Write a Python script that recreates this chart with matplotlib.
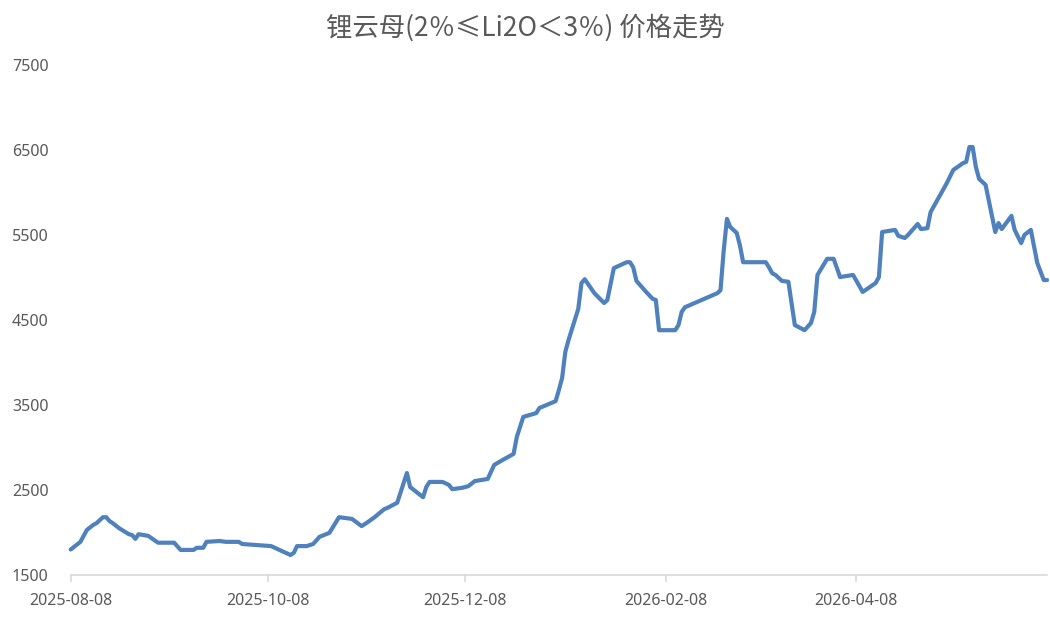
import matplotlib
matplotlib.use("Agg")
import matplotlib.pyplot as plt
import matplotlib.dates as mdates
import pandas as pd

dates = [
    "2025-08-08", "2025-08-11", "2025-08-13", "2025-08-15", "2025-08-16", "2025-08-18",
    "2025-08-19", "2025-08-20", "2025-08-21", "2025-08-23", "2025-08-26", "2025-08-27",
    "2025-08-28", "2025-08-29", "2025-09-01", "2025-09-04", "2025-09-09", "2025-09-11",
    "2025-09-15", "2025-09-16", "2025-09-18", "2025-09-19", "2025-09-23", "2025-09-25",
    "2025-09-29", "2025-09-30", "2025-10-09", "2025-10-11", "2025-10-13", "2025-10-15",
    "2025-10-16", "2025-10-17", "2025-10-20", "2025-10-22", "2025-10-24", "2025-10-27",
    "2025-10-30", "2025-11-03", "2025-11-06", "2025-11-08", "2025-11-10", "2025-11-13",
    "2025-11-14", "2025-11-17", "2025-11-20", "2025-11-21", "2025-11-25", "2025-11-26",
    "2025-11-27", "2025-12-01", "2025-12-03", "2025-12-04", "2025-12-07", "2025-12-09",
    "2025-12-11", "2025-12-15", "2025-12-17", "2025-12-19", "2025-12-23", "2025-12-24",
    "2025-12-26", "2025-12-30", "2025-12-31", "2026-01-05", "2026-01-06", "2026-01-07",
    "2026-01-08", "2026-01-09", "2026-01-12", "2026-01-13", "2026-01-14", "2026-01-17",
    "2026-01-20", "2026-01-21", "2026-01-23", "2026-01-27", "2026-01-28", "2026-01-29",
    "2026-01-30", "2026-02-02", "2026-02-04", "2026-02-05", "2026-02-06", "2026-02-11",
    "2026-02-12", "2026-02-13", "2026-02-14", "2026-02-24", "2026-02-25", "2026-02-26",
    "2026-02-27", "2026-02-28", "2026-03-02", "2026-03-03", "2026-03-04", "2026-03-11",
    "2026-03-12", "2026-03-13", "2026-03-14", "2026-03-16", "2026-03-18", "2026-03-20",
    "2026-03-23", "2026-03-25", "2026-03-26", "2026-03-27", "2026-03-30", "2026-04-01",
    "2026-04-03", "2026-04-07", "2026-04-10", "2026-04-14", "2026-04-15", "2026-04-16",
    "2026-04-20", "2026-04-21", "2026-04-23", "2026-04-24", "2026-04-27", "2026-04-28",
    "2026-04-30", "2026-05-01", "2026-05-06", "2026-05-08", "2026-05-11", "2026-05-12",
    "2026-05-13", "2026-05-14", "2026-05-15", "2026-05-16", "2026-05-18", "2026-05-21",
    "2026-05-22", "2026-05-23", "2026-05-26", "2026-05-27", "2026-05-29", "2026-05-30",
    "2026-06-01", "2026-06-03", "2026-06-05", "2026-06-06",
]

prices = [
    1800, 1890, 2030, 2090, 2110, 2180,
    2180, 2135, 2110, 2050, 1980, 1970,
    1925, 1980, 1960, 1880, 1880, 1795,
    1795, 1820, 1820, 1890, 1900, 1890,
    1890, 1865, 1840, 1805, 1770, 1735,
    1760, 1840, 1840, 1865, 1950, 1995,
    2180, 2160, 2075, 2125, 2180, 2275,
    2290, 2350, 2700, 2535, 2415, 2535,
    2595, 2595, 2560, 2510, 2525, 2545,
    2605, 2630, 2795, 2840, 2925, 3125,
    3360, 3405, 3465, 3545, 3675, 3815,
    4125, 4265, 4630, 4935, 4980, 4815,
    4700, 4735, 5110, 5180, 5180, 5120,
    4960, 4830, 4750, 4735, 4380, 4380,
    4440, 4595, 4650, 4815, 4850, 5320,
    5690, 5595, 5525, 5380, 5180, 5180,
    5120, 5050, 5030, 4960, 4950, 4440,
    4380, 4465, 4595, 5030, 5220, 5220,
    5005, 5030, 4830, 4935, 5005, 5535,
    5560, 5490, 5465, 5500, 5630, 5570,
    5580, 5770, 6110, 6265, 6345, 6360,
    6535, 6535, 6300, 6160, 6090, 5535,
    5640, 5570, 5725, 5560, 5405, 5500,
    5560, 5170, 4970, 4970,
]

tick_dates = ["2025-08-08", "2025-10-08", "2025-12-08", "2026-02-08", "2026-04-08"]
y_ticks = [1500, 2500, 3500, 4500, 5500, 6500, 7500]
title = "锂云母(2％≤Li2O＜3％) 价格走势"

x = pd.to_datetime(dates)
xt = pd.to_datetime(tick_dates)

fig = plt.figure(figsize=(10.5, 6.2), dpi=100)
ax = fig.add_axes([70.7 / 1050, 45 / 620, (1047 - 70.7) / 1050, 510 / 620])

ax.plot(x, prices, color="#4F81BD", linewidth=3.0, solid_joinstyle="round",
        solid_capstyle="round", clip_on=False)

ax.set_xlim(x[0], x[-1])
ax.set_ylim(1500, 7500)
ax.set_yticks(y_ticks)
ax.set_xticks(xt)
ax.xaxis.set_major_formatter(mdates.DateFormatter("%Y-%m-%d"))

for s in ["top", "right", "left"]:
    ax.spines[s].set_visible(False)
ax.spines["bottom"].set_color("#D9D9D9")
ax.spines["bottom"].set_linewidth(1.2)

ax.tick_params(axis="y", length=0, pad=16, labelsize=11.5, labelcolor="#595959")
ax.tick_params(axis="x", length=5, width=1.2, color="#D9D9D9", direction="out",
               pad=8, labelsize=11.5, labelcolor="#595959")
for lab in ax.get_xticklabels() + ax.get_yticklabels():
    lab.set_family(["Noto Sans", "DejaVu Sans"])

fig.text(0.5, 1 - 28 / 620, title, ha="center", va="center", fontsize=19,
         color="#595959", family=["Noto Sans CJK SC", "DejaVu Sans"])

fig.savefig("out.png", dpi=100)
